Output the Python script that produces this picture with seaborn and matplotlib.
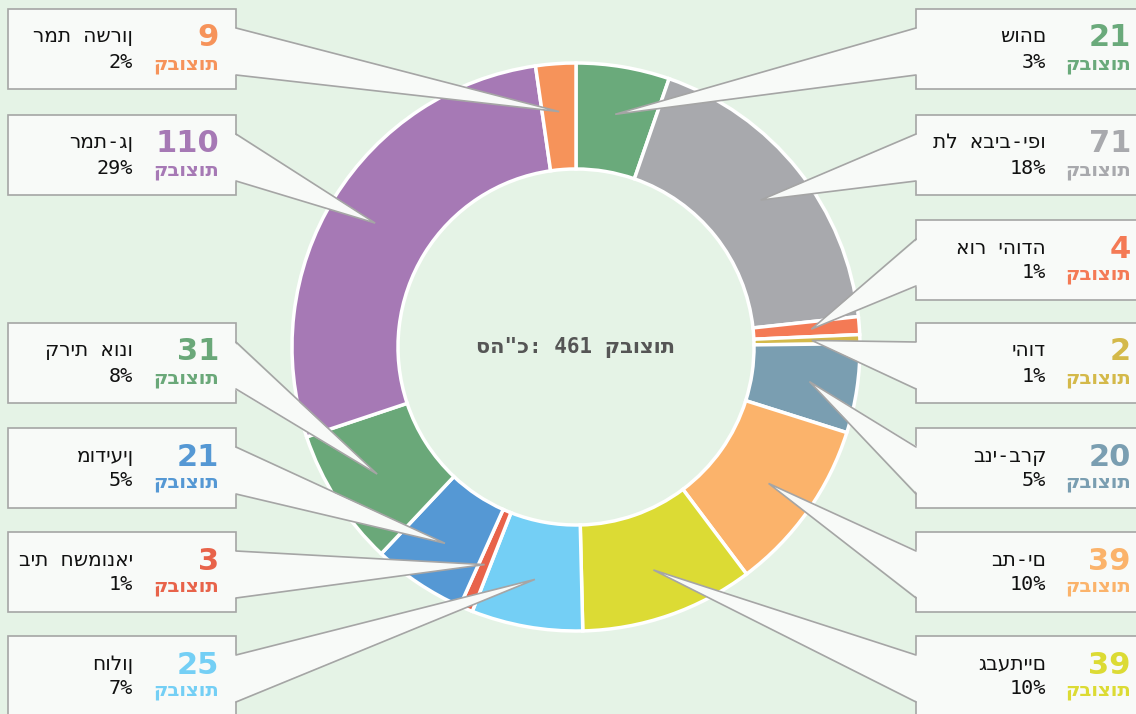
import numpy as np
import matplotlib.pyplot as plt
import seaborn as sns

cities = ["שוהם", "תל אביב-יפו", "אור יהודה", "יהוד", "בני-ברק", "בת-ים", "גבעתיים",
          "חולון", "בית חשמונאי", "מודיעין", "קרית אונו", "רמת-גן", "רמת השרון"]
groups = [21, 71, 4, 2, 20, 39, 39, 25, 3, 21, 31, 110, 9]
percents = [3, 18, 1, 1, 5, 10, 10, 7, 1, 5, 8, 29, 2]
colors = ["#6aaa7b", "#a8a9ad", "#f47a55", "#d4b94a", "#7a9eb1", "#fbb36b", "#dcdb34",
          "#74cff5", "#e8634a", "#5598d4", "#6aa879", "#a679b5", "#f6935a"]
total_groups = 461
unit = "קבוצות"
total_word = 'סה"כ'

W, H = 1136, 714
BG = "#e5f3e6"
# mono for digits and signs, DejaVu Sans picks up the Hebrew letters
FAM = ["DejaVu Sans Mono", "DejaVu Sans"]

sns.set_theme(style="white")
palette = sns.color_palette(colors)


def py(y):
    return H - y


fig = plt.figure(figsize=(W / 100, H / 100), dpi=100, facecolor=BG)
ax = fig.add_axes([0, 0, 1, 1])
ax.set_facecolor(BG)

cx, cy, R, ring = 576, py(347), 284, 106
wedges, _ = ax.pie(groups, colors=palette, startangle=90, counterclock=False,
                   center=(cx, cy), radius=R, frame=True,
                   wedgeprops=dict(width=ring, edgecolor="white", linewidth=2.5))
ax.set_xlim(0, W)
ax.set_ylim(0, H)
ax.set_aspect("equal")
ax.axis("off")

ax.text(cx, cy, f"{total_word}: {total_groups} {unit}", family=FAM,
        ha="center", va="center", fontsize=15, fontweight="bold", color="#555555")

# callout boxes: right column for the first seven, left column for the rest
right_tops = [9, 115, 220, 323, 428, 532, 636]
left_tops = [636, 532, 428, 323, 115, 9]
box_h = 80
box_fc = "#f8faf8"
box_ec = "#a5a5a5"

for i, w in enumerate(wedges):
    mid = np.deg2rad((w.theta1 + w.theta2) / 2)
    tip = (cx + 236 * np.cos(mid), cy + 236 * np.sin(mid))
    if i < 7:
        top = right_tops[i]
        x0, x1, edge = 916, W + 10, 916
        num_x, name_x = 1131, 1046
    else:
        top = left_tops[i - 7]
        x0, x1, edge = 8, 236, 236
        num_x, name_x = 219, 133
    ax.add_patch(plt.Rectangle((x0, py(top + box_h)), x1 - x0, box_h,
                               facecolor=box_fc, edgecolor=box_ec, lw=1.2, zorder=5))
    a = (edge, py(top + 19))
    b = (edge, py(top + 66))
    shift = -2 if edge == 236 else 2
    ax.add_patch(plt.Polygon([(a[0] + shift, a[1]), tip, (b[0] + shift, b[1])],
                             closed=True, facecolor=box_fc, edgecolor="none", zorder=6))
    ax.plot([a[0], tip[0], b[0]], [a[1], tip[1], b[1]], color=box_ec, lw=1.2,
            zorder=7, solid_joinstyle="miter")

    c = palette[i]
    ax.text(num_x, py(top + 29), str(groups[i]), ha="right", va="center",
            fontsize=22, fontweight="bold", color=c, zorder=8)
    ax.text(num_x, py(top + 55), unit, ha="right", va="center", family=FAM,
            fontsize=14, fontweight="bold", color=c, zorder=8)
    ax.text(name_x, py(top + 28), cities[i], ha="right", va="center", family=FAM,
            fontsize=14.5, color="#111111", zorder=8)
    ax.text(name_x, py(top + 53), f"{percents[i]}%", ha="right", va="center",
            family=FAM, fontsize=14.5, color="#111111", zorder=8)

fig.savefig("out.png", dpi=100, facecolor=BG)
